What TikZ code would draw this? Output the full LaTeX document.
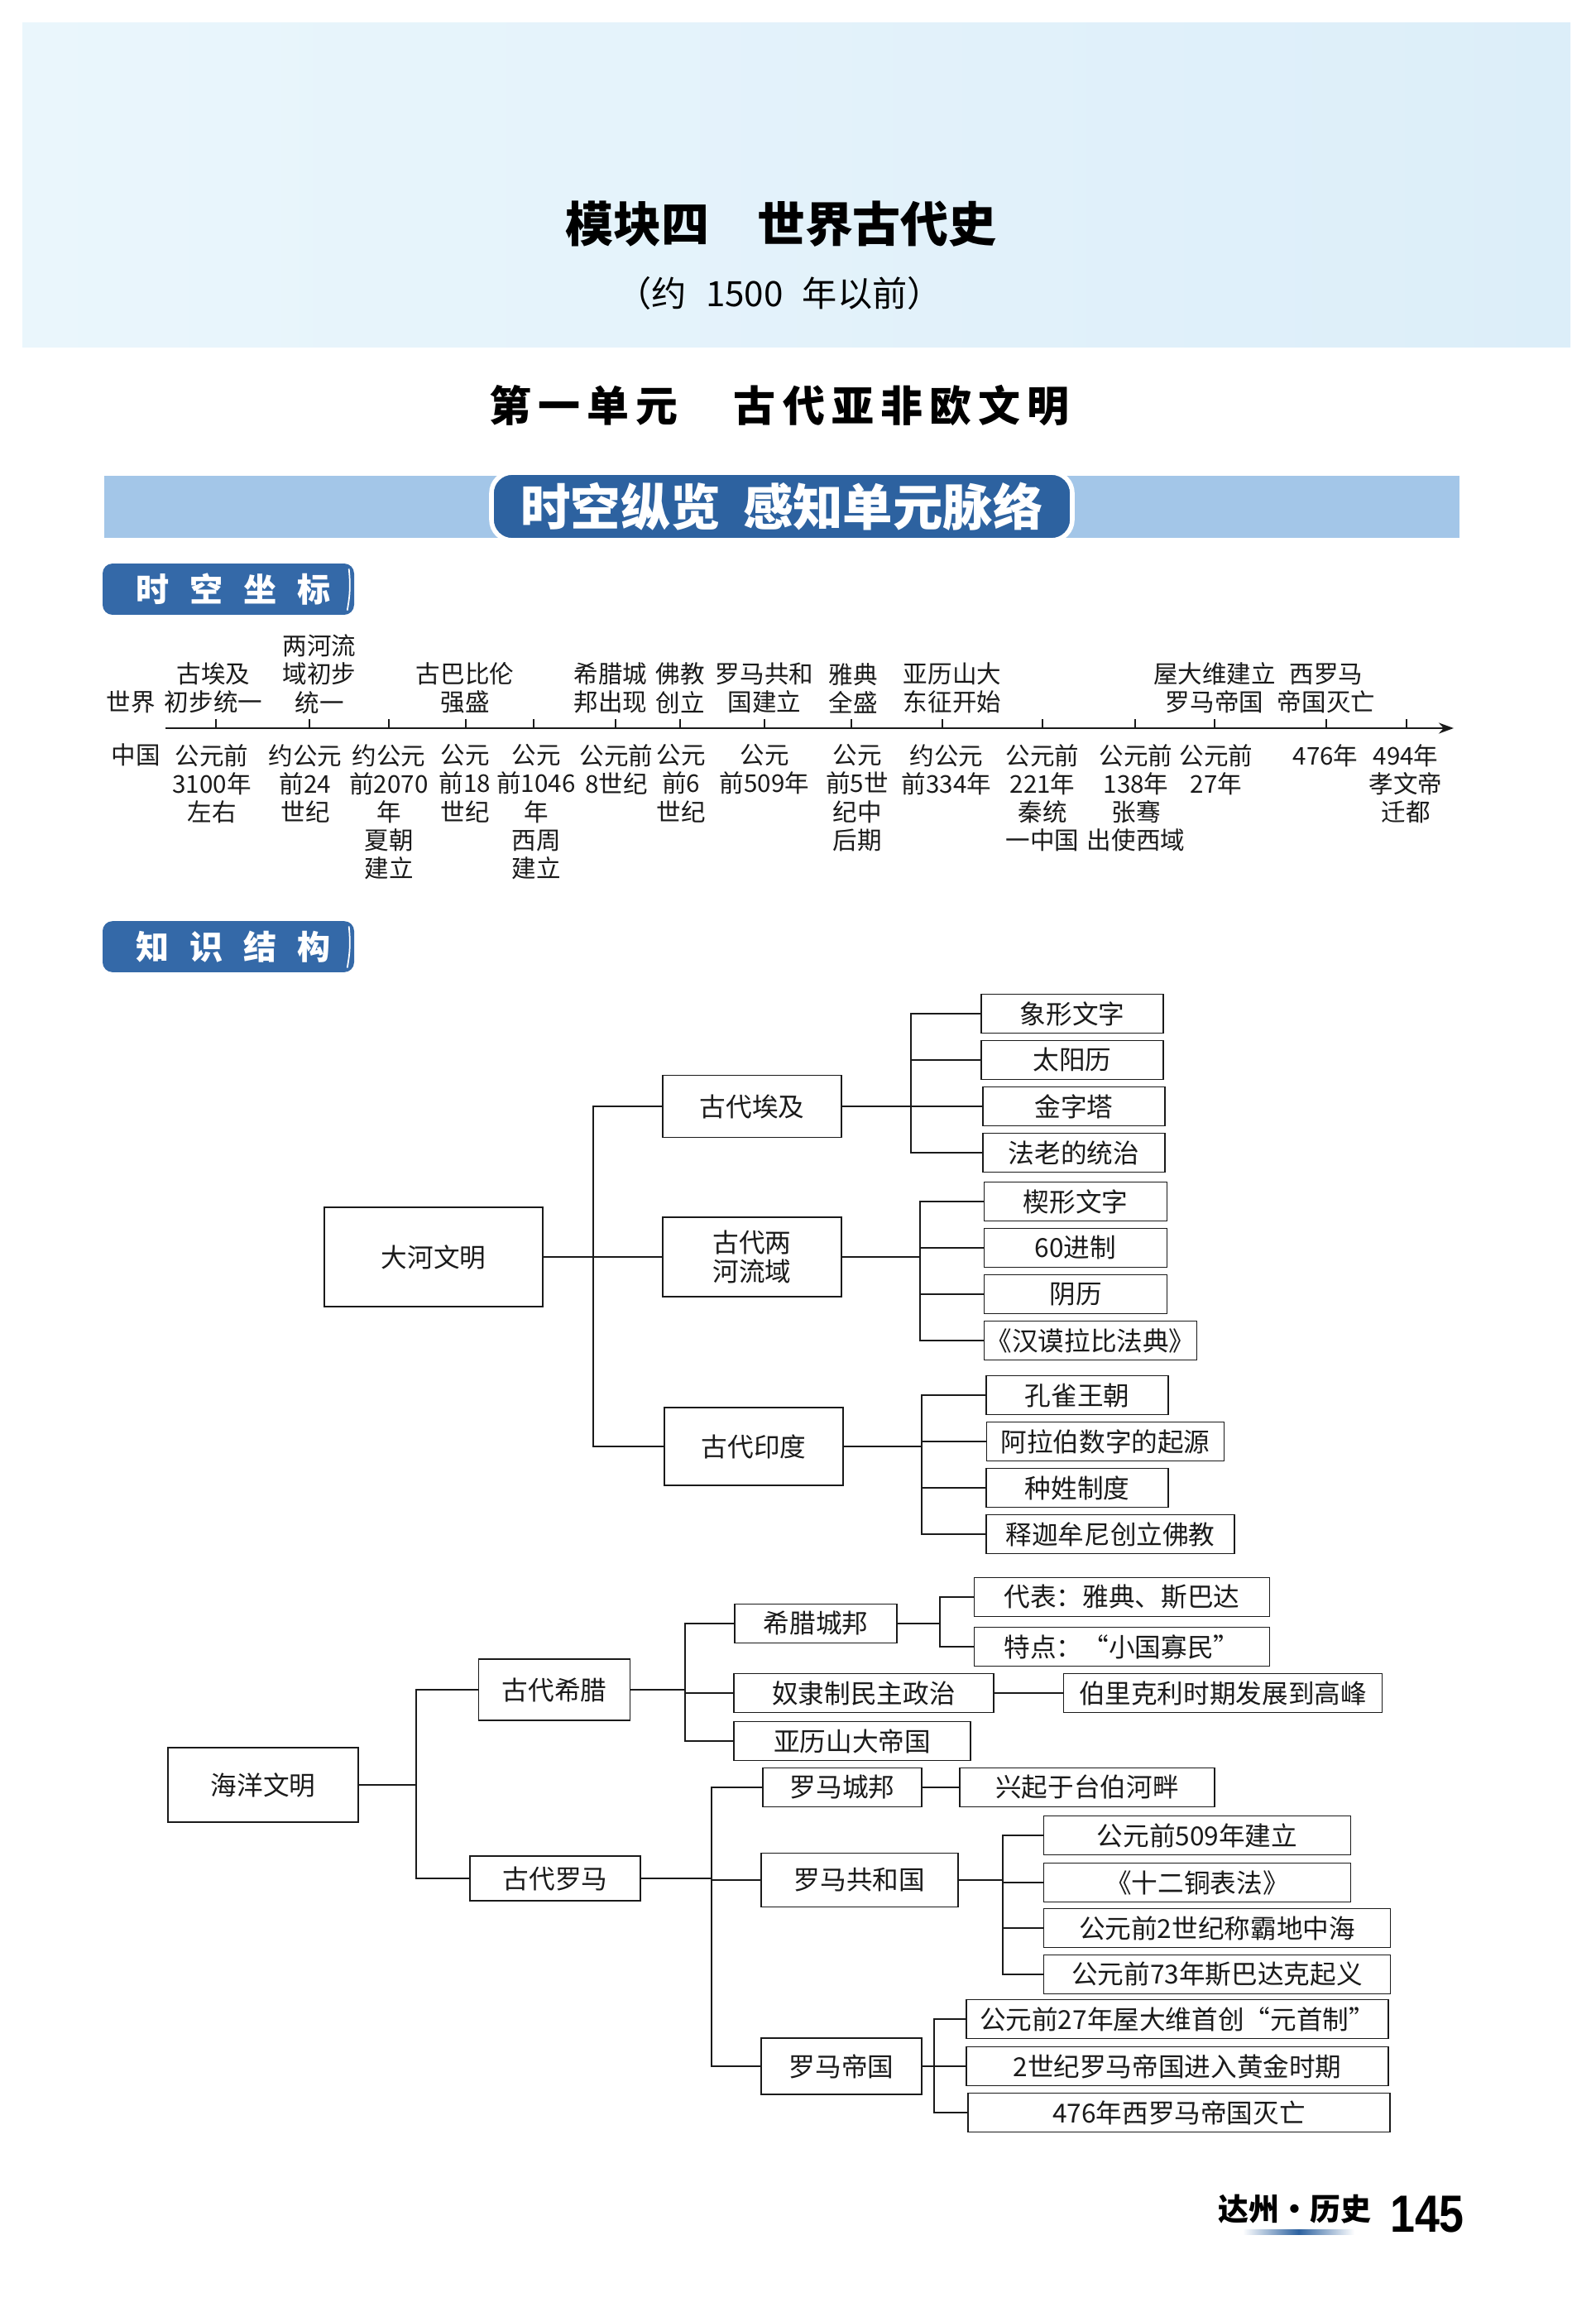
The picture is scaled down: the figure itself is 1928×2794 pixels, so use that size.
\documentclass[tikz,border=0pt]{standalone}
\usepackage{fontspec}
\usetikzlibrary{arrows.meta}
\newfontfamily\cjk{Noto Sans CJK SC}
\newfontfamily\cjkwide[LetterSpace=16]{Noto Sans CJK SC}
\newfontfamily\cjktag[LetterSpace=62]{Noto Sans CJK SC}
\newfontfamily\numfont{Liberation Sans}
\definecolor{headblue}{HTML}{DCEEF9}
\definecolor{headlight}{HTML}{EAF6FC}
\definecolor{bandblue}{HTML}{A3C6E8}
\definecolor{bannerblue}{HTML}{2D62A0}
\definecolor{tagblue}{HTML}{3469A8}
\definecolor{inkgray}{HTML}{1A1A1A}

\begin{document}
\begin{tikzpicture}[
    x=0.1mm, y=-0.1mm,
    >=Stealth,
    font=\cjk,
    text=inkgray,
    box/.style={
        draw=inkgray, line width=0.55pt, fill=white, align=center,
        inner sep=0pt, minimum height=4.7mm,
        font=\cjk\fontsize{9}{10.2}\selectfont,
    },
    link/.style={line width=0.55pt, draw=inkgray},
    datelabel/.style={align=center, inner sep=0pt, font=\cjk\fontsize{8.4}{9.7}\selectfont},
    tickmark/.style={line width=0.6pt, draw=inkgray},
    axisline/.style={line width=0.8pt, draw=inkgray},
    tagbox/.style={
        fill=tagblue, rounded corners=1.2mm, minimum width=30.4mm, minimum height=6.1mm,
        text=white, font=\cjktag\bfseries\fontsize{11.4}{12}\selectfont,
    },
]

% Page and header band
\fill[white] (0,0) rectangle (1928,2794);
\useasboundingbox (0,0) rectangle (1928,2794);
\shade[left color=headlight, right color=headblue] (27,27) rectangle (1898,419);
\node[font=\cjk\bfseries\fontsize{16.5}{18}\selectfont, text=black] (module) at (944,271) {模块四\quad 世界古代史};
\node[font=\cjk\fontsize{12}{13}\selectfont, text=black] (period) at (942,354) {（约\hspace{0.55em}1500\hspace{0.55em}年以前）};
\node[font=\cjkwide\bfseries\fontsize{14.5}{16}\selectfont, text=black] (unit) at (942,490) {第一单元　古代亚非欧文明};

% Banner
\fill[bandblue] (126,575) rectangle (1764,650);
\node[fill=bannerblue, draw=white, line width=1.6pt, rounded corners=2.5mm,
    minimum width=70.2mm, minimum height=7.8mm, text=white,
    font=\cjk\bfseries\fontsize{17.2}{18}\selectfont] (banner) at (945,612) {时空纵览\hspace{0.45em}感知单元脉络};

% Tags
\node[tagbox] (coordtag) at (276,712) {\hspace*{0.3em}时空坐标};
\draw[white, line width=0.5pt] ([shift={(-7,7)}]coordtag.north east) to[bend left=8] ([shift={(-9,-6)}]coordtag.south east);
\node[tagbox] (structtag) at (276,1144) {\hspace*{0.3em}知识结构};
\draw[white, line width=0.5pt] ([shift={(-7,7)}]structtag.north east) to[bend left=8] ([shift={(-9,-6)}]structtag.south east);

% Timeline
\node[datelabel] (world) at (158,848) {世界};
\node[datelabel] (china) at (164,912) {中国};
\coordinate (axisstart) at (200,880);
\coordinate (axisend) at (1757,880);
\draw[axisline, -{Stealth[length=1.8mm, width=1.3mm]}] (axisstart) -- (axisend);

\coordinate (t1) at (261,880);  \coordinate (t2) at (374,880);  \coordinate (t3) at (470,880);
\coordinate (t4) at (563,880);  \coordinate (t5) at (645,880);  \coordinate (t6) at (744,880);
\coordinate (t7) at (822,880);  \coordinate (t8) at (924,880);  \coordinate (t9) at (1029,880);
\coordinate (t10) at (1139,880); \coordinate (t11) at (1260,880); \coordinate (t12) at (1372,880);
\coordinate (t13) at (1468,880); \coordinate (t14) at (1603,880); \coordinate (t15) at (1700,880);
\draw[tickmark] (t1) -- ++(0,-11) (t2) -- ++(0,-11) (t3) -- ++(0,-11) (t4) -- ++(0,-11)
    (t5) -- ++(0,-11) (t6) -- ++(0,-11) (t7) -- ++(0,-11) (t8) -- ++(0,-11)
    (t9) -- ++(0,-11) (t10) -- ++(0,-11) (t11) -- ++(0,-11) (t12) -- ++(0,-11)
    (t13) -- ++(0,-11) (t14) -- ++(0,-11) (t15) -- ++(0,-11);

% World events
\node[datelabel, anchor=south] (egyptunify) at (258,863) {古埃及\\初步统一};
\node[datelabel, anchor=south] (mesounify) at (386,863) {两河流\\域初步\\统一};
\node[datelabel, anchor=south] (babylon) at (562,863) {古巴比伦\\强盛};
\node[datelabel, anchor=south] (greekpolis) at (738,863) {希腊城\\邦出现};
\node[datelabel, anchor=south] (buddha) at (822,863) {佛教\\创立};
\node[datelabel, anchor=south] (romerep) at (924,863) {罗马共和\\国建立};
\node[datelabel, anchor=south] (athenspeak) at (1031,863) {雅典\\全盛};
\node[datelabel, anchor=south] (alexmarch) at (1151,863) {亚历山大\\东征开始};
\node[datelabel, anchor=south] (octavian) at (1468,863) {屋大维建立\\罗马帝国};
\node[datelabel, anchor=south] (westfall) at (1603,863) {西罗马\\帝国灭亡};

% Dates and China
\node[datelabel, anchor=north] (bc3100) at (256,899) {公元前\\3100年\\左右};
\node[datelabel, anchor=north] (bc24c) at (369,899) {约公元\\前24\\世纪};
\node[datelabel, anchor=north] (xia) at (470,899) {约公元\\前2070\\年\\夏朝\\建立};
\node[datelabel, anchor=north] (bc18c) at (562,899) {公元\\前18\\世纪};
\node[datelabel, anchor=north] (zhou) at (648,899) {公元\\前1046\\年\\西周\\建立};
\node[datelabel, anchor=north] (bc8c) at (745,899) {公元前\\8世纪};
\node[datelabel, anchor=north] (bc6c) at (823,899) {公元\\前6\\世纪};
\node[datelabel, anchor=north] (bc509) at (924,899) {公元\\前509年};
\node[datelabel, anchor=north] (bc5c) at (1036,899) {公元\\前5世\\纪中\\后期};
\node[datelabel, anchor=north] (bc334) at (1144,899) {约公元\\前334年};
\node[datelabel, anchor=north] (qin) at (1260,899) {公元前\\221年\\秦统\\一中国};
\node[datelabel, anchor=north] (zhangqian) at (1373,899) {公元前\\138年\\张骞\\出使西域};
\node[datelabel, anchor=north] (bc27) at (1470,899) {公元前\\27年};
\node[datelabel, anchor=north] (ad476) at (1602,899) {476年};
\node[datelabel, anchor=north] (xiaowen) at (1699,899) {494年\\孝文帝\\迁都};

% River civilizations
\node[box, minimum width=26.4mm, minimum height=12mm] (river) at (524,1519) {大河文明};
\node[box, minimum width=21.6mm, minimum height=7.5mm] (egypt) at (909,1337) {古代埃及};
\node[box, minimum width=21.6mm, minimum height=9.6mm] (mesopotamia) at (909,1519) {古代两\\河流域};
\node[box, minimum width=21.6mm, minimum height=9.4mm] (india) at (911,1748) {古代印度};

\node[box, minimum width=22mm] (hieroglyph) at (1296,1225) {象形文字};
\node[box, minimum width=22mm] (solarcal) at (1296,1281) {太阳历};
\node[box, minimum width=22mm] (pyramid) at (1298,1337) {金字塔};
\node[box, minimum width=22mm] (pharaoh) at (1298,1393) {法老的统治};
\node[box, minimum width=22.1mm] (cuneiform) at (1300,1452) {楔形文字};
\node[box, minimum width=22.1mm] (sexagesimal) at (1300,1508) {60进制};
\node[box, minimum width=22.1mm] (lunarcal) at (1300,1564) {阴历};
\node[box, minimum width=25.7mm] (hammurabi) at (1318,1620) {《汉谟拉比法典》};
\node[box, minimum width=22mm] (maurya) at (1302,1686) {孔雀王朝};
\node[box, minimum width=28.7mm] (numerals) at (1336,1742) {阿拉伯数字的起源};
\node[box, minimum width=22mm] (caste) at (1302,1798) {种姓制度};
\node[box, minimum width=30mm] (buddhism) at (1342,1854) {释迦牟尼创立佛教};

\draw[link] (river.east) -- ++(60,0) |- (egypt.west);
\draw[link] (river.east) -- ++(60,0) |- (mesopotamia.west);
\draw[link] (river.east) -- ++(60,0) |- (india.west);
\draw[link] (egypt.east) -- ++(83,0) |- (hieroglyph.west);
\draw[link] (egypt.east) -- ++(83,0) |- (solarcal.west);
\draw[link] (egypt.east) -- ++(83,0) |- (pyramid.west);
\draw[link] (egypt.east) -- ++(83,0) |- (pharaoh.west);
\draw[link] (mesopotamia.east) -- ++(94,0) |- (cuneiform.west);
\draw[link] (mesopotamia.east) -- ++(94,0) |- (sexagesimal.west);
\draw[link] (mesopotamia.east) -- ++(94,0) |- (lunarcal.west);
\draw[link] (mesopotamia.east) -- ++(94,0) |- (hammurabi.west);
\draw[link] (india.east) -- ++(94,0) |- (maurya.west);
\draw[link] (india.east) -- ++(94,0) |- (numerals.west);
\draw[link] (india.east) -- ++(94,0) |- (caste.west);
\draw[link] (india.east) -- ++(94,0) |- (buddhism.west);

% Sea civilizations
\node[box, minimum width=23mm, minimum height=9mm] (ocean) at (318,2157) {海洋文明};
\node[box, minimum width=18.3mm, minimum height=7.4mm] (greece) at (670,2042) {古代希腊};
\node[box, minimum width=20.6mm, minimum height=5.4mm] (rome) at (671,2270) {古代罗马};

\node[box, minimum width=19.6mm] (polis) at (986,1962) {希腊城邦};
\node[box, minimum width=31.4mm] (democracy) at (1044,2046) {奴隶制民主政治};
\node[box, minimum width=28.6mm] (alexander) at (1030,2104) {亚历山大帝国};
\node[box, minimum width=35.7mm] (athens) at (1356,1930) {代表：雅典、斯巴达};
\node[box, minimum width=35.7mm] (smallstate) at (1356,1990) {特点：“小国寡民”};
\node[box, minimum width=38.5mm] (pericles) at (1478,2046) {伯里克利时期发展到高峰};

\node[box, minimum width=19.2mm] (romepolis) at (1018,2160) {罗马城邦};
\node[box, minimum width=30.8mm] (tiber) at (1314,2160) {兴起于台伯河畔};
\node[box, minimum width=23.8mm, minimum height=6.5mm] (republic) at (1039,2272) {罗马共和国};
\node[box, minimum width=19.4mm, minimum height=6.8mm] (empire) at (1017,2497) {罗马帝国};
\node[box, minimum width=37.1mm] (founded) at (1447,2218) {公元前509年建立};
\node[box, minimum width=37.1mm] (twelvetables) at (1447,2275) {《十二铜表法》};
\node[box, minimum width=41.9mm] (mediterranean) at (1471,2330) {公元前2世纪称霸地中海};
\node[box, minimum width=41.9mm] (spartacus) at (1471,2386) {公元前73年斯巴达克起义};
\node[box, minimum width=51mm] (principate) at (1423,2440) {公元前27年屋大维首创“元首制”};
\node[box, minimum width=51mm] (goldenage) at (1423,2497) {2世纪罗马帝国进入黄金时期};
\node[box, minimum width=51mm] (fallwest) at (1425,2553) {476年西罗马帝国灭亡};

\draw[link] (ocean.east) -- ++(69,0) |- (greece.west);
\draw[link] (ocean.east) -- ++(69,0) |- (rome.west);
\draw[link] (greece.east) -- ++(65.5,0) |- (polis.west);
\draw[link] (greece.east) -- ++(65.5,0) |- (democracy.west);
\draw[link] (greece.east) -- ++(65.5,0) |- (alexander.west);
\draw[link] (polis.east) -- ++(51,0) |- (athens.west);
\draw[link] (polis.east) -- ++(51,0) |- (smallstate.west);
\draw[link] (democracy) -- (pericles);
\draw[link] (rome.east) -- ++(85,0) |- (romepolis.west);
\draw[link] (rome.east) -- ++(85,0) |- (republic.west);
\draw[link] (rome.east) -- ++(85,0) |- (empire.west);
\draw[link] (romepolis) -- (tiber);
\draw[link] (republic.east) -- ++(53,0) |- (founded.west);
\draw[link] (republic.east) -- ++(53,0) |- (twelvetables.west);
\draw[link] (republic.east) -- ++(53,0) |- (mediterranean.west);
\draw[link] (republic.east) -- ++(53,0) |- (spartacus.west);
\draw[link] (empire.east) -- ++(14,0) |- (principate.west);
\draw[link] (empire.east) -- ++(14,0) |- (goldenage.west);
\draw[link] (empire.east) -- ++(14,0) |- (fallwest.west);

% Footer
\node[font=\cjk\bfseries\fontsize{10.5}{12}\selectfont, text=black] (region) at (1565,2670) {达州・历史};
\shade[left color=white, right color=white, middle color=bannerblue] (1502,2694) rectangle (1637,2700);
\node[font=\numfont\bfseries\fontsize{18}{20}\selectfont, text=black] (pageno) at (1725,2676) {\scalebox{0.85}[1]{145}};

\end{tikzpicture}
\end{document}
